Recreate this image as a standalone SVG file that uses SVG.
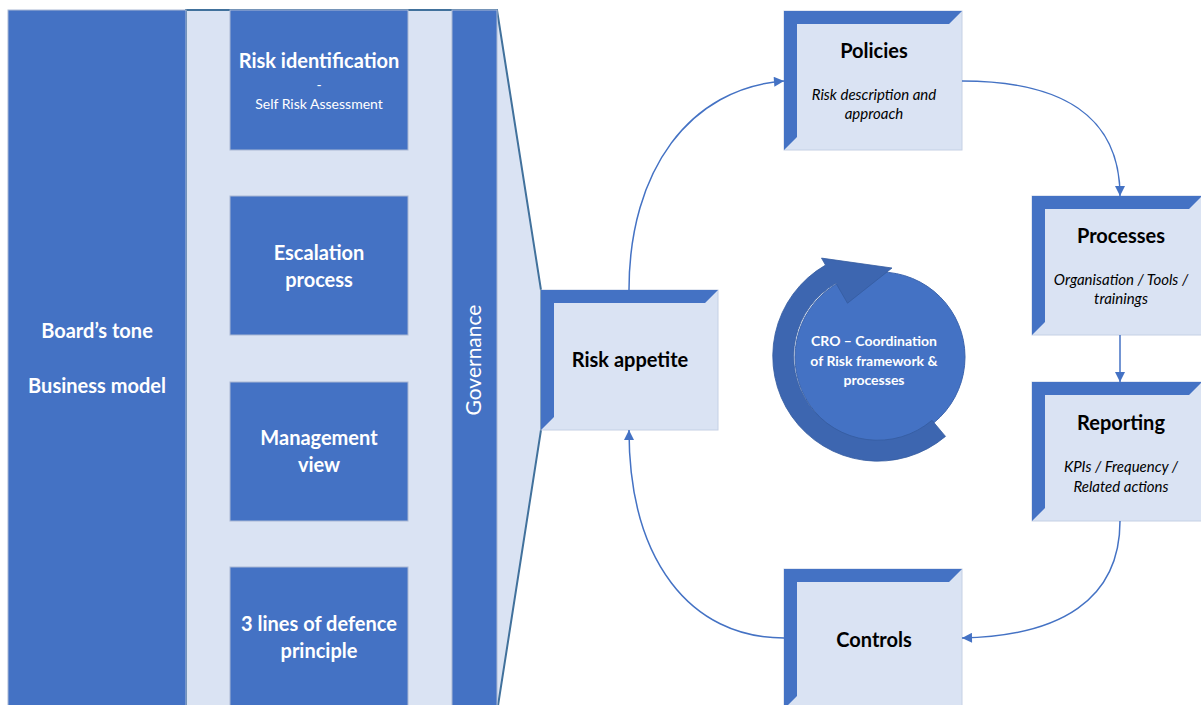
<svg xmlns="http://www.w3.org/2000/svg" width="1201" height="705" viewBox="0 0 1201 705">
  <style>
    .blue { fill: #4472c4; stroke: #a9b8d4; stroke-width: 1; }
    .pale { fill: #dae3f3; stroke: #c5d0e4; stroke-width: 1; }
    .bevel { fill: #4472c4; }
    .wt { font-family: Lato, "Liberation Sans", sans-serif; font-weight: bold; font-size: 20px; fill: #ffffff; text-anchor: middle; }
    .ct { font-family: Lato, "Liberation Sans", sans-serif; font-weight: bold; font-size: 14px; fill: #ffffff; text-anchor: middle; }
    .wsub { font-family: Lato, "Liberation Sans", sans-serif; font-size: 14px; fill: #ffffff; text-anchor: middle; }
    .bt { font-family: Lato, "Liberation Sans", sans-serif; font-weight: bold; font-size: 20px; fill: #000000; text-anchor: middle; }
    .it { font-family: Lato, "Liberation Sans", sans-serif; font-style: italic; font-size: 15px; fill: #000000; text-anchor: middle; }
    .link { fill: none; stroke: #4472c4; stroke-width: 1.5; }
  </style>
  <defs>
    <marker id="ah" viewBox="0 0 10 10" refX="10" refY="5" markerWidth="11" markerHeight="10" markerUnits="userSpaceOnUse" orient="auto">
      <path d="M0,0 L10,5 L0,10 z" fill="#4472c4"/>
    </marker>
  </defs>

  <rect width="1201" height="705" fill="#ffffff"/>

  <!-- funnel backdrop spanning the stacked steps -->
  <g id="funnel">
    <polygon points="186,10 497,10 541,290 541,430 497,712 186,712" fill="#dae3f3" stroke="#41719c" stroke-width="2"/>
  </g>

  <g id="board">
    <rect class="blue" x="8" y="10" width="178" height="700"/>
    <text class="wt" x="97" y="338">Board’s tone</text>
    <text class="wt" x="97" y="393">Business model</text>
  </g>

  <g id="risk-identification">
    <rect class="blue" x="230" y="10" width="178" height="140"/>
    <text class="wt" x="319" y="68">Risk identification</text>
    <text class="wsub" x="319" y="90">-</text>
    <text class="wsub" x="319" y="109">Self Risk Assessment</text>
  </g>

  <g id="escalation">
    <rect class="blue" x="230" y="196" width="178" height="139"/>
    <text class="wt" x="319" y="260">Escalation</text>
    <text class="wt" x="319" y="287">process</text>
  </g>

  <g id="management">
    <rect class="blue" x="230" y="382" width="178" height="139"/>
    <text class="wt" x="319" y="445">Management</text>
    <text class="wt" x="319" y="472">view</text>
  </g>

  <g id="defence">
    <rect class="blue" x="230" y="567" width="178" height="143"/>
    <text class="wt" x="319" y="631">3 lines of defence</text>
    <text class="wt" x="319" y="658">principle</text>
  </g>

  <g id="governance">
    <rect class="blue" x="452" y="10" width="45" height="700"/>
    <text x="481" y="360" transform="rotate(-90 481 360)" font-family="Lato, 'Liberation Sans', sans-serif" font-size="21" fill="#ffffff" text-anchor="middle">Governance</text>
  </g>

  <!-- bevelled boxes: pale face with a darker top and left edge -->
  <g id="risk-appetite">
    <rect class="pale" x="541" y="290" width="177" height="140"/>
    <polygon class="bevel" points="541,290 718,290 705,303 554,303 554,417 541,430"/>
    <text class="bt" x="630" y="367">Risk appetite</text>
  </g>

  <g id="policies">
    <rect class="pale" x="784" y="11" width="178" height="139"/>
    <polygon class="bevel" points="784,11 962,11 949,24 797,24 797,137 784,150"/>
    <text class="bt" x="874" y="58">Policies</text>
    <text class="it" x="874" y="100">Risk description and</text>
    <text class="it" x="874" y="119">approach</text>
  </g>

  <g id="processes">
    <rect class="pale" x="1032" y="196" width="170" height="139"/>
    <polygon class="bevel" points="1032,196 1202,196 1189,209 1045,209 1045,322 1032,335"/>
    <text class="bt" x="1121" y="243">Processes</text>
    <text class="it" x="1121" y="285">Organisation / Tools /</text>
    <text class="it" x="1121" y="304">trainings</text>
  </g>

  <g id="reporting">
    <rect class="pale" x="1032" y="382" width="170" height="139"/>
    <polygon class="bevel" points="1032,382 1202,382 1189,395 1045,395 1045,508 1032,521"/>
    <text class="bt" x="1121" y="430">Reporting</text>
    <text class="it" x="1121" y="472">KPIs / Frequency /</text>
    <text class="it" x="1121" y="492">Related actions</text>
  </g>

  <g id="controls">
    <rect class="pale" x="784" y="569" width="178" height="140"/>
    <polygon class="bevel" points="784,569 962,569 949,582 797,582 797,696 784,709"/>
    <text class="bt" x="874" y="647">Controls</text>
  </g>

  <g id="cro">
    <circle cx="880" cy="357" r="85" fill="#4472c4" stroke="#3a63ad" stroke-width="1"/>
    <path d="M945.5,436.4 A105,105 0 1 1 825.5,265.1 L821.5,258.1 L892,268 L847.5,303.2 L836,283.3 A84,84 0 1 0 932,420.3 Z" fill="#3d66b0" stroke="#355c9f" stroke-width="0.8"/>
    <text class="ct" x="874" y="346">CRO – Coordination</text>
    <text class="ct" x="874" y="366">of Risk framework &amp;</text>
    <text class="ct" x="874" y="385">processes</text>
  </g>

  <g id="connectors">
    <path class="link" d="M629,290 C629,170 690,88 784,81" marker-end="url(#ah)"/>
    <path class="link" d="M962,81 C1060,81 1120,115 1120,196" marker-end="url(#ah)"/>
    <path class="link" d="M1120,335 L1120,382" marker-end="url(#ah)"/>
    <path class="link" d="M1120,521 C1120,600 1060,636 962,638" marker-end="url(#ah)"/>
    <path class="link" d="M784,638 C690,638 629,560 629,430" marker-end="url(#ah)"/>
  </g>
</svg>
